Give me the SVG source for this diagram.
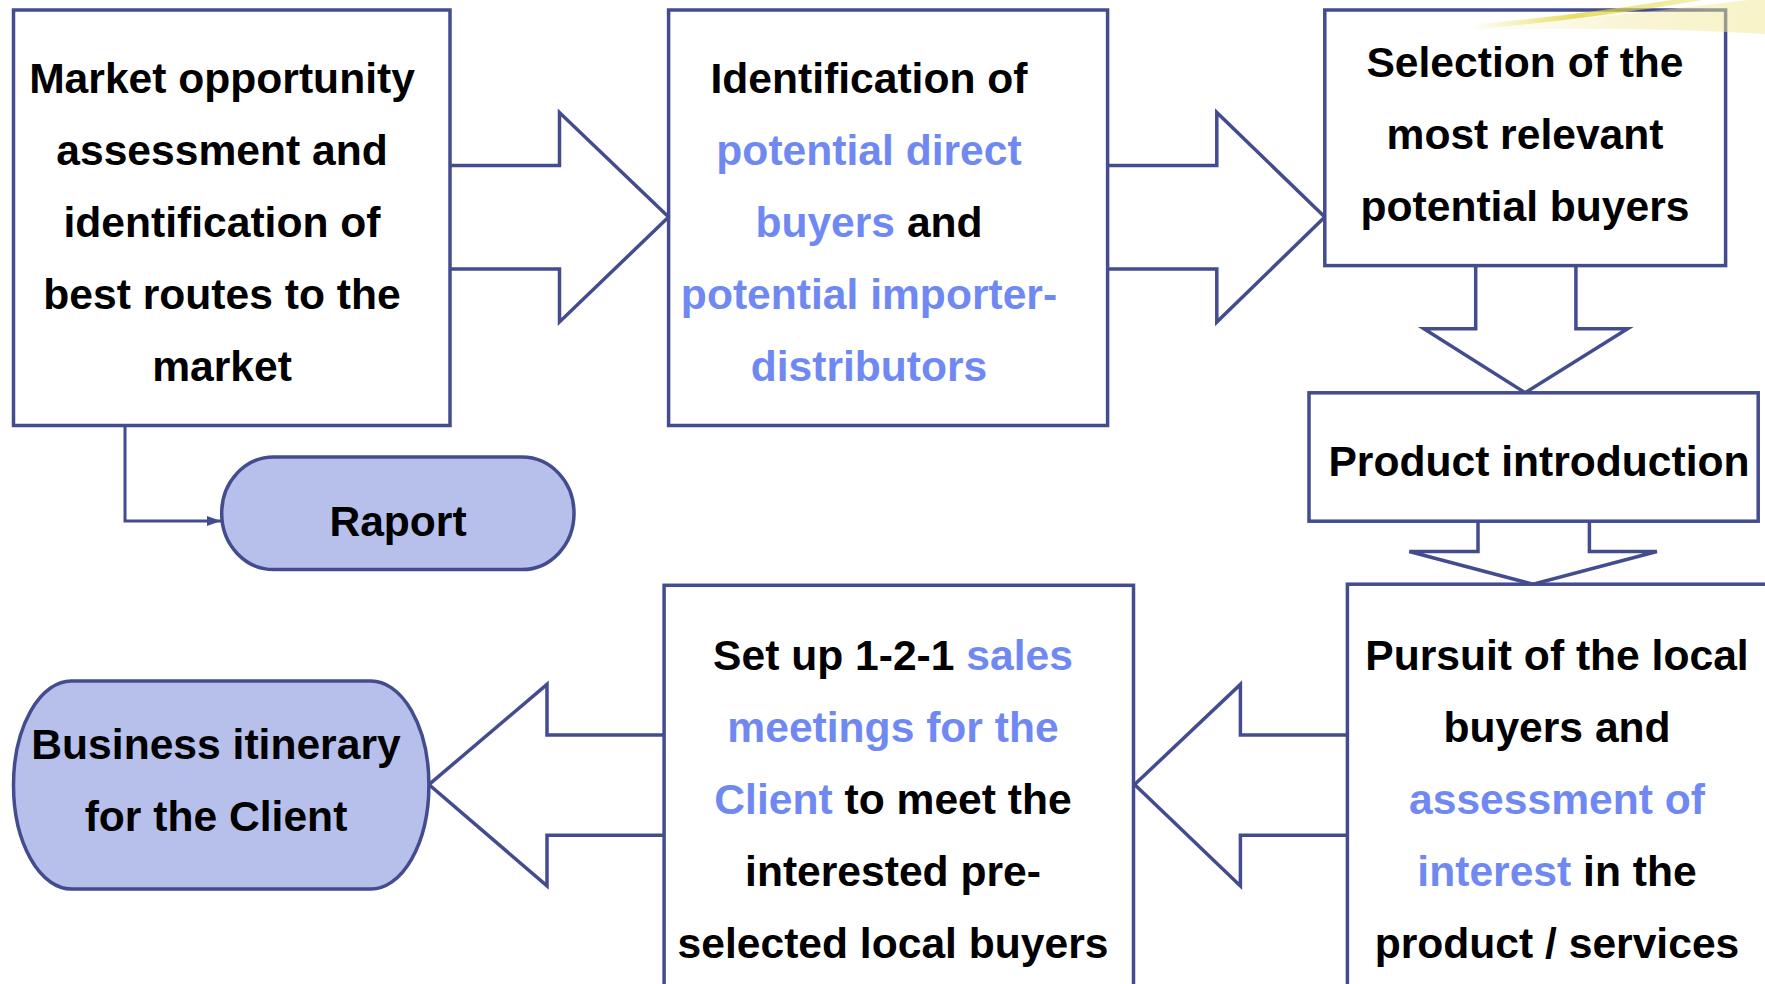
<svg xmlns="http://www.w3.org/2000/svg" width="1765" height="984" viewBox="0 0 1765 984">
<defs>
<style>
.box{fill:#ffffff;stroke:#434C8E;stroke-width:3.5}
.term{fill:#B6C0EB;stroke:#434C8E;stroke-width:3.5}
.blk{fill:#ffffff;stroke:#434C8E;stroke-width:3.5;stroke-linejoin:miter}
.ln{fill:none;stroke:#434C8E;stroke-width:3}
text{font-family:"Liberation Sans",Arial,sans-serif;font-weight:bold;font-size:42.6px;fill:#000000;text-anchor:middle}
.hl{fill:#7089F2}
</style>
<linearGradient id="glow" x1="0" y1="0" x2="1" y2="0">
<stop offset="0" stop-color="#F4EFB0" stop-opacity="0"/>
<stop offset="0.5" stop-color="#EEE48A" stop-opacity="0.35"/>
<stop offset="1" stop-color="#F2EA9C" stop-opacity="0.55"/>
</linearGradient>
<linearGradient id="streak" x1="0" y1="0" x2="1" y2="0">
<stop offset="0" stop-color="#E8DC5A" stop-opacity="0"/>
<stop offset="0.45" stop-color="#E2D440" stop-opacity="0.8"/>
<stop offset="1" stop-color="#E8DC5A" stop-opacity="0.45"/>
</linearGradient>
<marker id="ah" markerWidth="14" markerHeight="10" refX="14" refY="5" orient="auto" markerUnits="userSpaceOnUse">
<path d="M0,0 L14,5 L0,10 Z" fill="#434C8E"/>
</marker>
</defs>
<rect width="1765" height="984" fill="#ffffff"/>

<g id="connectors">
<polyline class="blk" points="450,165.5 559.5,165.5 559.5,112.5 668.6,217 559.5,322 559.5,269 450,269"/>
<polyline class="blk" points="1107.6,165.5 1216.8,165.5 1216.8,112.5 1324.8,217 1216.8,322 1216.8,269 1107.6,269"/>
<polyline class="blk" points="1475.7,265.6 1475.7,328.7 1423.9,328.7 1525.2,392.8 1627.6,328.7 1575.9,328.7 1575.9,265.6"/>
<polyline class="blk" points="1478,521.2 1478,551.5 1409.3,551.5 1533.1,584.2 1656.9,551.5 1589.4,551.5 1589.4,521.2"/>
<polyline class="blk" points="1347.4,735 1240.4,735 1240.4,684.4 1134.6,784.6 1240.4,885.9 1240.4,835.2 1347.4,835.2"/>
<polyline class="blk" points="664.1,735 547,735 547,684.4 428.9,784.6 547,885.9 547,835.2 664.1,835.2"/>
<polyline class="ln" points="125,425.5 125,521 221,521" marker-end="url(#ah)"/>
</g>

<g id="market">
<rect class="box" x="13.5" y="10" width="436.5" height="415.5"/>
<text x="222" y="93">Market opportunity</text>
<text x="222" y="165">assessment and</text>
<text x="222" y="237">identification of</text>
<text x="222" y="309">best routes to the</text>
<text x="222" y="381">market</text>
</g>

<g id="identification">
<rect class="box" x="668.6" y="10" width="439" height="415.5"/>
<text x="869" y="93">Identification of</text>
<text x="869" y="165" class="hl">potential direct</text>
<text x="869" y="237"><tspan class="hl">buyers</tspan> and</text>
<text x="869" y="309" class="hl">potential importer-</text>
<text x="869" y="381" class="hl">distributors</text>
</g>

<g id="selection">
<rect class="box" x="1324.8" y="10" width="400.8" height="255.6"/>
<text x="1525" y="77">Selection of the</text>
<text x="1525" y="149">most relevant</text>
<text x="1525" y="221">potential buyers</text>
</g>

<g id="product">
<rect class="box" x="1309" y="392.8" width="449.2" height="128.4"/>
<text x="1539" y="476">Product introduction</text>
</g>

<g id="pursuit">
<rect class="box" x="1347.4" y="584.2" width="440" height="420"/>
<text x="1557" y="670">Pursuit of the local</text>
<text x="1557" y="742">buyers and</text>
<text x="1557" y="814" class="hl">assessment of</text>
<text x="1557" y="886"><tspan class="hl">interest</tspan> in the</text>
<text x="1557" y="958">product / services</text>
</g>

<g id="setup">
<rect class="box" x="664.1" y="585.3" width="469.4" height="420"/>
<text x="893" y="670">Set up 1-2-1 <tspan class="hl">sales</tspan></text>
<text x="893" y="742" class="hl">meetings for the</text>
<text x="893" y="814"><tspan class="hl">Client</tspan> to meet the</text>
<text x="893" y="886">interested pre-</text>
<text x="893" y="958">selected local buyers</text>
</g>

<g id="itinerary">
<path class="term" d="M72,681 H370 A58,104 0 0 1 428.9,785 A58,104 0 0 1 370,889 H72 A58,104 0 0 1 13.5,785 A58,104 0 0 1 72,681 Z"/>
<text x="216" y="759">Business itinerary</text>
<text x="216" y="831">for the Client</text>
</g>

<g id="raport">
<rect class="term" x="221.7" y="457" width="352.3" height="112.6" rx="52" ry="56"/>
<text x="398" y="536">Raport</text>
</g>

<path d="M1460,30 Q1600,18 1765,-2 L1765,34 Q1640,26 1460,30 Z" fill="url(#glow)"/>
<path d="M1470,27 Q1580,18 1700,-2" fill="none" stroke="url(#streak)" stroke-width="5"/>
</svg>
